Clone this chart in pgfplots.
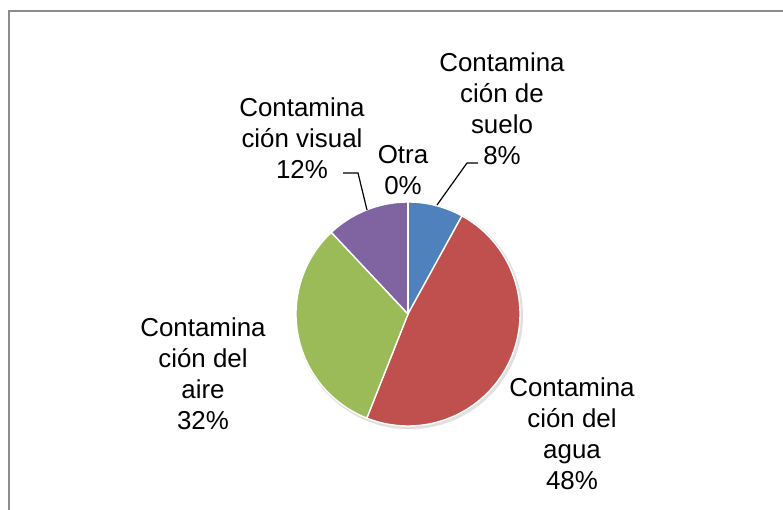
\documentclass[border=0pt]{standalone}
\usepackage{pgfplots}
\pgfplotsset{compat=1.18}
\usepackage{pgfplotstable}
\usepackage{fontspec}
\setmainfont{Liberation Sans}
\definecolor{suelo}{HTML}{4F81BD}
\definecolor{agua}{HTML}{C0504D}
\definecolor{aire}{HTML}{9BBB59}
\definecolor{visual}{HTML}{8064A2}
\definecolor{otra}{HTML}{4BACC6}
\definecolor{FrameGray}{HTML}{8C8C8C}
\newcommand\lbl{\fontsize{26}{31}\selectfont}

% share of each category, in percent, clockwise from 12 o'clock
\pgfplotstableread{
name value
suelo 8
agua 48
aire 32
visual 12
otra 0
}\piedata

\begin{document}
\begin{tikzpicture}
\begin{axis}[
  name=pie,
  width=783bp, height=510bp, scale only axis,
  xmin=0, xmax=783, ymin=0, ymax=510,
  hide axis, clip=false
]
% chart frame (runs off the right and bottom of the picture)
\draw[color=FrameGray,line width=1.3pt] (axis cs:9,0) -- (axis cs:9,499) -- (axis cs:783,499);

% soft shadow under the pie
\fill[black,opacity=0.12] (axis cs:409.5,194.3) circle[radius=113.5bp];

\def\pieS{90}
\pgfplotsforeachungrouped \i in {0,1,2,3,4}{%
  \pgfplotstablegetelem{\i}{value}\of\piedata
  \pgfmathsetmacro\pieE{\pieS-3.6*\pgfplotsretval}%
  \pgfplotstablegetelem{\i}{name}\of\piedata
  \edef\temp{\noexpand\fill[fill=\pgfplotsretval,draw=white,line width=1.4pt,line join=round]
    (axis cs:408,196) -- ++(\pieS:112bp) arc[start angle=\pieS,end angle=\pieE,radius=112bp] -- cycle;}%
  \temp
  \global\let\pieS\pieE
}

% leader lines
\draw[black,line width=1.2pt] (axis cs:437,305) -- (axis cs:467,347) -- (axis cs:478,347);
\draw[black,line width=1.2pt] (axis cs:367,300) -- (axis cs:358,337) -- (axis cs:343,337);

% data labels
\node[align=center,font=\lbl] at (axis cs:502,401.5) {Contamina\\ción de\\suelo\\8\%};
\node[align=center,font=\lbl] at (axis cs:403,340) {Otra\\0\%};
\node[align=center,font=\lbl] at (axis cs:302,371.5) {Contamina\\ción visual\\12\%};
\node[align=center,font=\lbl] at (axis cs:203,136.5) {Contamina\\ción del\\aire\\32\%};
\node[align=center,font=\lbl] at (axis cs:572,76) {Contamina\\ción del\\agua\\48\%};
\end{axis}
\pgfresetboundingbox
\path[use as bounding box] (pie.south west) rectangle (pie.north east);
\end{tikzpicture}
\end{document}
